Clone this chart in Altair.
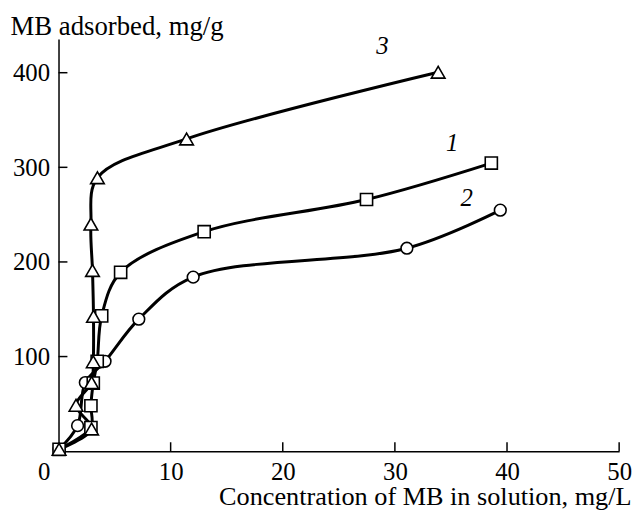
import altair as alt
import pandas as pd

# Curve 1 (squares)
x1 = [0.05, 2.89, 2.89, 3.1, 3.45, 3.85, 5.54, 12.99, 27.47, 38.6]
y1 = [2, 25, 48, 72, 95, 143, 189, 232, 266, 304.5]
# Curve 2 (circles)
x2 = [0.05, 1.70, 2.39, 4.15, 7.16, 12.01, 31.07, 39.4]
y2 = [2, 27, 72.5, 95, 139.5, 184, 214.5, 254.7]
# Curve 3 (triangles)
x3 = [0.05, 2.95, 1.56, 2.95, 3.1, 3.12, 3.03, 2.89, 3.47, 11.42, 33.86]
y3 = [2, 23.5, 48.5, 72.5, 94.5, 142.5, 191, 240, 289, 330, 400.5]

x_ticks = [10, 20, 30, 40, 50]
y_ticks = [100, 200, 300, 400]
x_labels = [0, 10, 20, 30, 40, 50]

curve_names = ["3", "1", "2"]
curve_lab_x = [28.9, 35.1, 36.4]
curve_lab_y = [428, 325.5, 267]

W, H = 566, 416
FONT = "Liberation Serif"


def frame(xs, ys, name):
    return pd.DataFrame({"x": xs, "y": ys, "s": name, "i": list(range(len(xs)))})


df = pd.concat([frame(x1, y1, "1"), frame(x2, y2, "2"), frame(x3, y3, "3")])

xscale = alt.Scale(domain=[0, 50], nice=False, zero=False)
yscale = alt.Scale(domain=[0, 435.5], nice=False, zero=False)

common = dict(
    ticks=False, grid=False, domainColor="black", domainWidth=1.5,
    labelFont=FONT, labelFontSize=25, labelColor="black", labelFlush=False,
    titleFont=FONT, titleFontWeight="normal", titleColor="black",
)

xaxis = alt.Axis(
    values=x_labels, labelPadding=9,
    labelOffset={"condition": {"test": "datum.value === 0", "value": -15}, "value": 0},
    title="Concentration of MB in solution, mg/L",
    titleAnchor="end", titleAlign="right", titleBaseline="alphabetic",
    titleX=578, titleY=54, titleFontSize=26.5, **common,
)
yaxis = alt.Axis(
    values=y_ticks, labelPadding=9,
    title="MB adsorbed, mg/g", titleAngle=0, titleAlign="left",
    titleBaseline="alphabetic", titleX=-49, titleY=-5, titleFontSize=27, **common,
)


def X(field="x"):
    return alt.X(f"{field}:Q", scale=xscale, axis=xaxis)


def Y(field="y"):
    return alt.Y(f"{field}:Q", scale=yscale, axis=yaxis)


lines = alt.Chart(df).mark_line(color="black", strokeWidth=3, interpolate="catmull-rom").encode(
    x=X(), y=Y(), detail="s:N", order="i:Q",
)


def markers(name, shape, size):
    return alt.Chart(df[df["s"] == name]).mark_point(
        shape=shape, size=size, filled=True, fill="white", stroke="black",
        strokeWidth=1.6, opacity=1,
    ).encode(x=X(), y=Y())


m2 = markers("2", "circle", 140)
m1 = markers("1", "square", 150)
m3 = markers("3", "triangle-up", 190)

xt = alt.Chart(pd.DataFrame({"x": x_ticks})).mark_rule(color="black", strokeWidth=1.5).encode(
    x=X(), y=alt.value(H), y2=alt.value(H - 9)
)
yt = alt.Chart(pd.DataFrame({"y": y_ticks})).mark_rule(color="black", strokeWidth=1.5).encode(
    y=Y(), x=alt.value(0), x2=alt.value(9)
)

labs = alt.Chart(pd.DataFrame({"t": curve_names, "x": curve_lab_x, "y": curve_lab_y})).mark_text(
    font=FONT, fontSize=25, fontStyle="italic", color="black", baseline="middle", align="center"
).encode(x=X(), y=Y(), text="t:N")

chart = alt.layer(lines, xt, yt, m2, m1, m3, labs).properties(
    width=W, height=H,
    background="white",
    autosize=alt.AutoSizeParams(type="none"),
    padding={"left": 51, "top": 29, "right": 15, "bottom": 60},
).configure_view(strokeWidth=0, stroke="transparent")

chart.save("out.html", embed_options={"renderer": "svg", "actions": False})
